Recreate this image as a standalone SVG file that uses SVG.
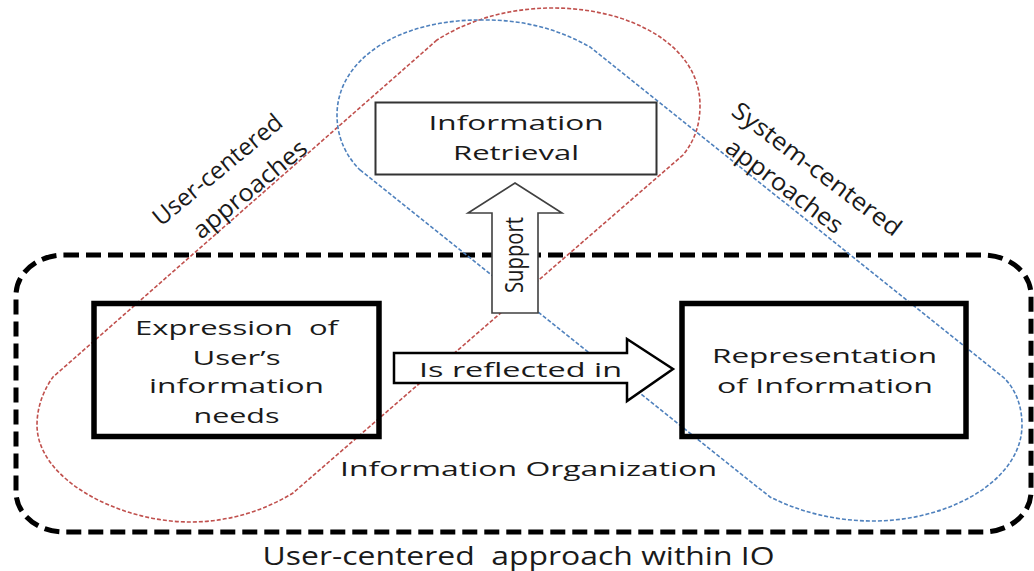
<svg xmlns="http://www.w3.org/2000/svg" width="1034" height="571" viewBox="0 0 1034 571">
<style>
text{font-family:"Open Sans","Liberation Sans",sans-serif;fill:#1a1a1a;}
.f20{font-size:20px}
.f23{font-size:23px}
.f24{font-size:24px}
.f25{font-size:25px}
.box{fill:none;stroke:#000;stroke-width:5.5}
.red{fill:none;stroke:#C0504D;stroke-width:1.6;stroke-dasharray:4 2}
.blue{fill:none;stroke:#4F81BD;stroke-width:1.6;stroke-dasharray:4 2}
.barrow{fill:#fff;stroke-linejoin:miter}
</style>
<rect width="1034" height="571" fill="#fff"/>

<g id="io-frame">
<rect x="16" y="255" width="1015" height="277" rx="48" ry="40" fill="none" stroke="#000" stroke-width="5" stroke-dasharray="15 7"/>
<text class="f20" x="528.5" y="476" text-anchor="middle" textLength="377" lengthAdjust="spacingAndGlyphs">Information Organization</text>
<text class="f25" x="518.5" y="565" text-anchor="middle" textLength="512" lengthAdjust="spacingAndGlyphs" xml:space="preserve">User-centered  approach within IO</text>
</g>

<g id="approaches">
<path class="red" d="M437,40 L53,377 C45,388 37,405 37,425 C37,480 120,522 190,522 C230,522 265,510 293,493 L683,155 C695,140 700,125 700,105 C700,45 630,8 553,8 C505,8 465,22 437,40 Z"/>
<path class="blue" d="M360,170 L770,497 C800,512 835,521 873,521 C950,521 1022,480 1022,425 C1022,405 1015,388 1003,377 L590,47 C560,30 525,20 487,20 C398,18 337,60 337,115 C337,140 348,158 360,170 Z"/>
</g>

<g id="labels">
<g transform="translate(161,227) rotate(-39.5)">
<text class="f24" x="0" y="0" textLength="160" lengthAdjust="spacingAndGlyphs">User-centered</text>
<text class="f24" x="22.6" y="35.5" textLength="140" lengthAdjust="spacingAndGlyphs">approaches</text>
</g>
<g transform="translate(730,114) rotate(37)">
<text class="f24" x="0" y="0" textLength="205" lengthAdjust="spacingAndGlyphs">System-centered</text>
<text class="f24" x="17" y="33" textLength="140" lengthAdjust="spacingAndGlyphs">approaches</text>
</g>
</g>

<g id="retrieval">
<rect x="375.5" y="102.5" width="281" height="72" fill="none" stroke="#333" stroke-width="2"/>
<text class="f20" x="516" y="130" text-anchor="middle" textLength="175" lengthAdjust="spacingAndGlyphs">Information</text>
<text class="f20" x="516" y="160" text-anchor="middle" textLength="126" lengthAdjust="spacingAndGlyphs">Retrieval</text>
</g>

<g id="expression">
<rect class="box" x="94" y="303.5" width="285" height="133"/>
<text class="f20" x="236.5" y="335" text-anchor="middle" textLength="203" lengthAdjust="spacingAndGlyphs" xml:space="preserve">Expression  of</text>
<text class="f20" x="236.5" y="365" text-anchor="middle" textLength="88" lengthAdjust="spacingAndGlyphs">User’s</text>
<text class="f20" x="236.5" y="393" text-anchor="middle" textLength="175" lengthAdjust="spacingAndGlyphs">information</text>
<text class="f20" x="236.5" y="423" text-anchor="middle" textLength="86" lengthAdjust="spacingAndGlyphs">needs</text>
</g>

<g id="representation">
<rect class="box" x="682" y="303.5" width="284" height="133"/>
<text class="f20" x="824.5" y="363" text-anchor="middle" textLength="225" lengthAdjust="spacingAndGlyphs">Representation</text>
<text class="f20" x="825" y="393" text-anchor="middle" textLength="216" lengthAdjust="spacingAndGlyphs">of Information</text>
</g>

<g id="connectors">
<g id="support-arrow">
<polygon class="barrow" points="515,183 562,213 538,213 538,313 492,313 492,213 468,213" stroke="#404040" stroke-width="1.6"/>
<text class="f20" transform="translate(523,293) rotate(-90) scale(1,1.3)" x="0" y="0" textLength="76" lengthAdjust="spacingAndGlyphs">Support</text>
</g>
<g id="reflected-arrow">
<polygon class="barrow" points="394,353 627,353 627,339 673,369 627,401 627,383 394,383" stroke="#000" stroke-width="2.5"/>
<text class="f20" x="419" y="377" textLength="203" lengthAdjust="spacingAndGlyphs">Is reflected in</text>
</g>
</g>
</svg>
